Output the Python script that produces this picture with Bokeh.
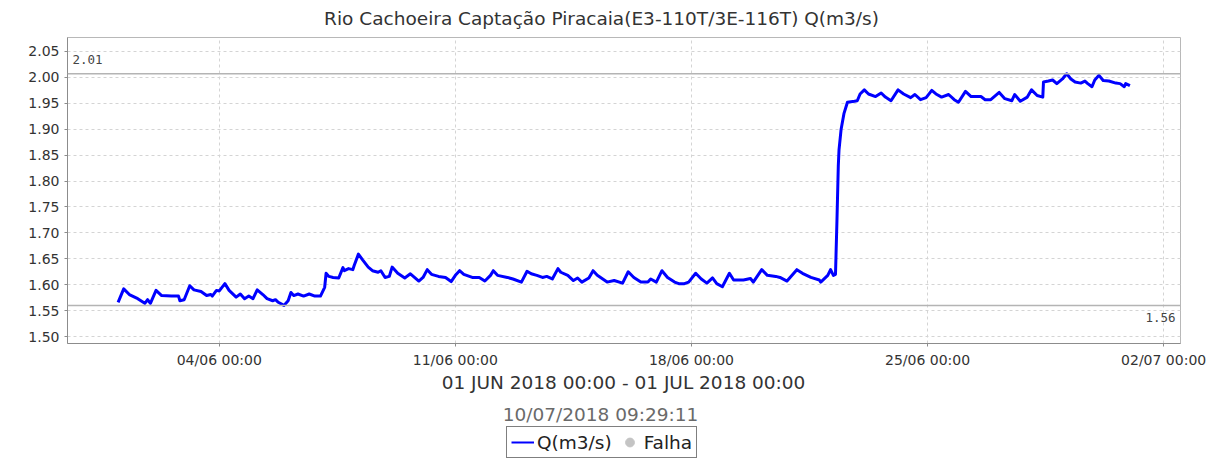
from datetime import datetime, timedelta
from bokeh.plotting import figure
from bokeh.layouts import column
from bokeh.models import (Range1d, FixedTicker, DatetimeTickFormatter, PrintfTickFormatter,
                          Span, Label, Legend, LegendItem)
from bokeh.embed import file_html
from bokeh.resources import INLINE

# ---------------- data ----------------
title_text = "Rio Cachoeira Captação Piracaia(E3-110T/3E-116T) Q(m3/s)"
period_text = "01 JUN 2018 00:00 - 01 JUL 2018 00:00"
generated_text = "10/07/2018 09:29:11"
series_name = "Q(m3/s)"
fail_name = "Falha"

period_start = datetime(2018, 6, 1)
period_end = datetime(2018, 7, 1)

hours = [0, 4, 8, 14, 19, 21, 23, 27, 31, 38, 43, 44, 47,
         51, 54, 59, 63, 66, 67, 70, 72, 76, 79, 84, 87, 90, 93,
         96, 99, 103, 106, 110, 112, 114, 118, 121, 123, 125, 128, 132, 136, 140, 144,
         147, 148, 150, 153, 157, 160, 161, 164, 167, 168, 171, 174, 178, 181, 185, 187, 190,
         193, 195, 199, 204, 208, 214, 217, 220, 223, 228, 233, 237, 240, 243, 246,
         252, 257, 261, 265, 267, 270, 277, 281, 287, 291, 294, 298, 302, 305, 309,
         313, 315, 320, 324, 327, 330, 335, 338, 341, 348, 353, 359, 363, 367, 372,
         377, 379, 383, 387, 391, 396, 399, 403, 406, 411, 415, 419, 423, 426, 430,
         435, 438, 445, 450, 452, 458, 462, 468, 471, 476, 483, 487, 493, 499, 500, 505, 507, 509,
         510.5, 511.5, 512.5, 513, 514.5, 516.5, 519, 524, 526, 528, 531, 534, 539, 543, 546, 550,
         555, 559, 564, 567, 571, 575, 579, 582, 586, 591, 595, 598, 603, 607, 614, 617, 621,
         627, 631, 636, 638, 642, 647, 650, 654, 658, 658.5, 662, 665, 668, 672, 675, 678,
         681, 685, 688, 690, 693, 695, 698, 701, 705, 710, 713, 716, 717, 720]

q_values = [1.566, 1.592, 1.581, 1.573, 1.564, 1.571, 1.564, 1.589, 1.579, 1.578, 1.578, 1.569, 1.571,
            1.598, 1.590, 1.587, 1.579, 1.581, 1.578, 1.589, 1.588, 1.602, 1.589, 1.576, 1.582, 1.573, 1.578,
            1.573, 1.590, 1.581, 1.573, 1.569, 1.571, 1.566, 1.560, 1.569, 1.585, 1.579, 1.582, 1.578, 1.582, 1.578, 1.578,
            1.595, 1.622, 1.616, 1.614, 1.613, 1.633, 1.627, 1.631, 1.629, 1.637, 1.659, 1.648, 1.634, 1.627, 1.624, 1.627, 1.614,
            1.616, 1.634, 1.622, 1.613, 1.621, 1.607, 1.614, 1.629, 1.620, 1.616, 1.614, 1.606, 1.618, 1.627, 1.620,
            1.614, 1.614, 1.607, 1.618, 1.627, 1.618, 1.614, 1.611, 1.605, 1.626, 1.621, 1.618, 1.614, 1.616, 1.611,
            1.631, 1.624, 1.618, 1.608, 1.613, 1.605, 1.613, 1.627, 1.618, 1.605, 1.608, 1.603, 1.625, 1.614, 1.605,
            1.605, 1.611, 1.605, 1.627, 1.614, 1.605, 1.602, 1.602, 1.605, 1.622, 1.611, 1.603, 1.613, 1.602, 1.596,
            1.622, 1.609, 1.609, 1.612, 1.605, 1.629, 1.618, 1.616, 1.614, 1.607, 1.629, 1.622, 1.614, 1.609, 1.605, 1.618, 1.629, 1.618,
            1.620, 1.720, 1.830, 1.860, 1.900, 1.930, 1.952, 1.954, 1.955, 1.968, 1.976, 1.968, 1.963, 1.970, 1.962, 1.955,
            1.976, 1.968, 1.961, 1.967, 1.957, 1.961, 1.975, 1.968, 1.962, 1.967, 1.957, 1.952, 1.973, 1.963, 1.963, 1.957, 1.957,
            1.971, 1.959, 1.955, 1.967, 1.954, 1.962, 1.976, 1.965, 1.962, 1.991, 1.993, 1.995, 1.988, 1.997, 2.007, 1.997,
            1.991, 1.989, 1.993, 1.988, 1.982, 1.995, 2.004, 1.994, 1.993, 1.989, 1.988, 1.982, 1.988, 1.984]

# "Falha" (failure) series: no failures in the period
fail_hours = []
fail_values = []

y_ticks = [1.50, 1.55, 1.60, 1.65, 1.70, 1.75, 1.80, 1.85, 1.90, 1.95, 2.00, 2.05]
x_tick_dates = [datetime(2018, 6, 4), datetime(2018, 6, 11), datetime(2018, 6, 18),
                datetime(2018, 6, 25), datetime(2018, 7, 2)]

# ---------------- helpers ----------------
EPOCH = datetime(1970, 1, 1)
NAN = float("nan")


def ms(d):
    return (d - EPOCH).total_seconds() * 1000.0


times = [period_start + timedelta(hours=h) for h in hours]
q_max = max(q_values)
q_min = min(q_values)

pad = (period_end - period_start) * 0.05
x0 = ms(period_start - pad)
x1 = ms(period_end + pad)
y0, y1 = 1.4865, 2.077

# page geometry (pixels)
W = 1218
TOP_H = 30          # title strip
MAIN_BOTTOM = 372   # bottom of main chart strip
PAGE_H = 460
FL, FR, FT, FB = 67, 1180, 37, 343   # plot frame (frames of the column are aligned)


def xd(px):
    return x0 + (px - FL) * (x1 - x0) / (FR - FL)


FONT = "DejaVu Sans"

# ---------------- title strip ----------------
p_top = figure(width=W, height=TOP_H, x_range=Range1d(FL, FR), y_range=Range1d(0, TOP_H),
               x_axis_location=None, y_axis_location=None, min_border=0,
               min_border_left=FL, min_border_right=W - FR,
               output_backend="svg", toolbar_location=None)
p_top.outline_line_color = None
p_top.grid.visible = False
p_top.add_layout(Label(x=601, y=TOP_H - 17.5, text=title_text, text_font=FONT,
                       text_font_size="18.5px", text_color="#333333",
                       text_align="center", text_baseline="middle"))

# ---------------- main chart ----------------
main_h = MAIN_BOTTOM - TOP_H
p = figure(width=W, height=main_h, x_axis_type="datetime",
           x_range=Range1d(x0, x1), y_range=Range1d(y0, y1),
           output_backend="svg", toolbar_location=None,
           min_border_left=FL, min_border_right=W - FR,
           min_border_top=FT - TOP_H, min_border_bottom=MAIN_BOTTOM - FB)

p.background_fill_color = "white"
p.border_fill_color = "white"
p.outline_line_color = "#b8b8b8"
p.outline_line_width = 1

for ax in (p.xaxis[0], p.yaxis[0]):
    ax.axis_line_color = "#8c8c8c"
    ax.major_tick_line_color = "#8c8c8c"
    ax.minor_tick_line_color = None
    ax.major_tick_in = 0
    ax.major_tick_out = 3
    ax.major_label_text_font = FONT
    ax.major_label_text_font_size = "14px"
    ax.major_label_text_color = "#333333"
    ax.major_label_standoff = 5

p.yaxis[0].ticker = FixedTicker(ticks=y_ticks)
p.yaxis[0].formatter = PrintfTickFormatter(format="%.2f")
p.xaxis[0].ticker = FixedTicker(ticks=[ms(d) for d in x_tick_dates])
fmt = "%d/%m %H:%M"
p.xaxis[0].formatter = DatetimeTickFormatter(days=fmt, months=fmt, hours=fmt, hourmin=fmt,
                                             minutes=fmt, years=fmt)

for g in (p.xgrid[0], p.ygrid[0]):
    g.grid_line_color = "#d4d4d4"
    g.grid_line_dash = "3 3"
    g.grid_line_width = 1

# min / max markers
p.add_layout(Span(location=q_max, dimension="width", line_color="#b4b4b4", line_width=1.5))
p.add_layout(Span(location=q_min, dimension="width", line_color="#b4b4b4", line_width=1.5))

p.line(times, q_values, line_color="#0000ff", line_width=3, line_join="round")

p.add_layout(Label(x=xd(72), y=q_max, y_offset=10, text=f"{q_max:.2f}",
                   text_font="DejaVu Sans Mono", text_font_size="12.5px",
                   text_color="#444444", text_align="left", text_baseline="bottom"))
p.add_layout(Label(x=xd(1175), y=q_min, y_offset=-8, text=f"{q_min:.2f}",
                   text_font="DejaVu Sans Mono", text_font_size="12.5px",
                   text_color="#444444", text_align="right", text_baseline="top"))

# ---------------- bottom strip: subtitles + legend ----------------
bot_h = PAGE_H - MAIN_BOTTOM
p_bot = figure(width=W, height=bot_h, x_range=Range1d(FL, FR), y_range=Range1d(0, bot_h),
               x_axis_location=None, y_axis_location=None, min_border=0,
               min_border_left=FL, min_border_right=W - FR,
               output_backend="svg", toolbar_location=None)
p_bot.outline_line_color = None
p_bot.grid.visible = False
p_bot.add_layout(Label(x=623, y=PAGE_H - 381.5, text=period_text, text_font=FONT,
                       text_font_size="18.5px", text_color="#333333",
                       text_align="center", text_baseline="middle"))
p_bot.add_layout(Label(x=600, y=PAGE_H - 413.7, text=generated_text, text_font=FONT,
                       text_font_size="18.5px", text_color="#6a6a6a",
                       text_align="center", text_baseline="middle"))

# legend swatches: renderers that carry the series style but no visible points here
r_leg = p_bot.line([NAN, NAN], [NAN, NAN], line_color="#0000ff", line_width=2)
fx = [float(h) for h in fail_hours] or [NAN]
fy = list(fail_values) or [NAN]
r_fail = p_bot.scatter(fx, fy, marker="circle", size=10,
                       fill_color="#c4c4c4", line_color="#c4c4c4")
legend = Legend(items=[LegendItem(label=series_name, renderers=[r_leg]),
                       LegendItem(label=fail_name, renderers=[r_fail])],
                location=(506 - FL, PAGE_H - 458), orientation="horizontal",
                border_line_color="black", border_line_width=1,
                background_fill_color="white", background_fill_alpha=1,
                label_text_font=FONT, label_text_font_size="18.5px",
                label_text_color="#222222",
                glyph_width=23, glyph_height=22, label_height=22,
                label_standoff=3, spacing=6, padding=4, margin=0)
p_bot.add_layout(legend)

layout = column(p_top, p, p_bot, spacing=0)
open("out.html", "w").write(file_html(layout, INLINE))
